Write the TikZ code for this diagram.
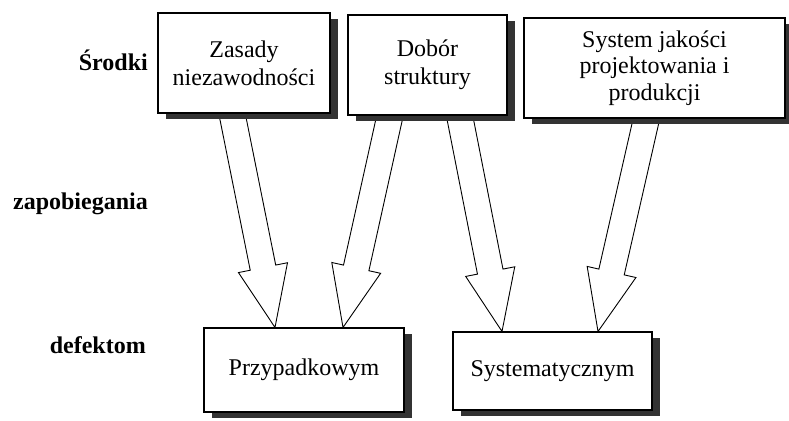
\documentclass[tikz,border=0pt]{standalone}
\usepackage{fontspec}
\setmainfont{Liberation Serif}
\usetikzlibrary{calc,shadows}
\pgfdeclarelayer{background}
\pgfsetlayers{background,main}
\tikzset{
  box/.style={draw=black, line width=1.1pt, fill=white, inner sep=0pt, align=center,
    font=\fontsize{24}{28}\selectfont,
    drop shadow={shadow xshift=8pt, shadow yshift=-6pt, fill=black!80, opacity=1}},
  lab/.style={font=\fontsize{24}{28}\selectfont\bfseries, anchor=east, inner sep=0pt},
  arrowbody/.style={draw=black, line width=0.9pt, fill=white, line join=miter}
}
\newcommand\blockarrow[2]{%
  \coordinate (ba-s) at #1;
  \coordinate (ba-t) at #2;
  \coordinate (ba-h) at ($(ba-t)!61pt!(ba-s)$);
  \filldraw[arrowbody]
    ($(ba-s)!13pt!90:(ba-t)$) -- ($(ba-h)!13pt!90:(ba-t)$) -- ($(ba-h)!25pt!90:(ba-t)$)
    -- (ba-t)
    -- ($(ba-h)!25pt!-90:(ba-t)$) -- ($(ba-h)!13pt!-90:(ba-t)$) -- ($(ba-s)!13pt!-90:(ba-t)$);
}
\begin{document}
\begin{tikzpicture}[x=1pt,y=-1pt]
  \useasboundingbox (0,0) rectangle (789,420);
  \clip (0,0) rectangle (789,420);
  % labels
  \node[lab] (l1) at (148,60) {Środki};
  \node[lab] (l2) at (148,204) {zapobiegania};
  \node[lab] (l3) at (146,345) {defektom};
  % top boxes
  \node[box, minimum width=172pt, minimum height=100pt] (zas) at (244,63) {Zasady\\niezawodności};
  \node[box, minimum width=159pt, minimum height=100pt] (dob) at (427.5,65) {Dobór\\struktury};
  \node[box, minimum width=261pt, minimum height=100pt, font=\fontsize{24}{26.5}\selectfont] (sys) at (654.5,68) {System jakości\\projektowania i\\produkcji};
  % bottom boxes
  \node[box, minimum width=200pt, minimum height=84pt] (prz) at (304,370) {Przypadkowym};
  \node[box, minimum width=199pt, minimum height=78pt] (sym) at (552.5,371) {Systematycznym};
  % arrows
  \begin{pgfonlayer}{background}
    \blockarrow{($(zas.south)+(-12,0)$)}{($(prz.north)+(-29,0)$)}
    \blockarrow{($(dob.south)+(-37.5,0)$)}{($(prz.north)+(39,0)$)}
    \blockarrow{($(dob.south)+(32,0)$)}{($(sym.north)+(-50.5,0)$)}
    \blockarrow{($(sys.south)+(-8,0)$)}{($(sym.north)+(45.5,0)$)}
  \end{pgfonlayer}
\end{tikzpicture}
\end{document}
